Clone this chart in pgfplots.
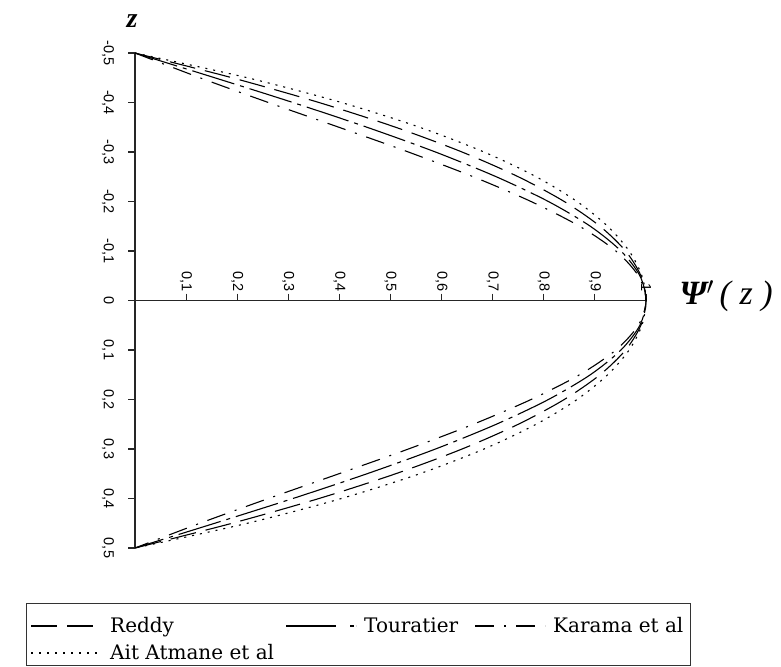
\documentclass[border=0pt]{standalone}
\usepackage{fontspec}
\setmainfont{Liberation Serif}
\newfontfamily\ticksfont{Liberation Sans}
\newfontfamily\legfont{DejaVu Serif}
\usepackage{pgfplots}
\usepackage{pgfplotstable}
\pgfplotsset{compat=1.18}

% Transverse shear shape functions Psi'(z) of four plate theories
\pgfplotstableread{
z      reddy  touratier karama atmane
-0.50  0.000  0.000     0.000  0.000
-0.45  0.190  0.156     0.127  0.220
-0.40  0.360  0.309     0.261  0.404
-0.35  0.510  0.454     0.399  0.557
-0.30  0.640  0.588     0.535  0.683
-0.25  0.750  0.707     0.662  0.785
-0.20  0.840  0.809     0.775  0.865
-0.15  0.910  0.891     0.870  0.925
-0.10  0.960  0.951     0.941  0.967
-0.05  0.990  0.988     0.985  0.992
 0.00  1.000  1.000     1.000  1.000
 0.05  0.990  0.988     0.985  0.992
 0.10  0.960  0.951     0.941  0.967
 0.15  0.910  0.891     0.870  0.925
 0.20  0.840  0.809     0.775  0.865
 0.25  0.750  0.707     0.662  0.785
 0.30  0.640  0.588     0.535  0.683
 0.35  0.510  0.454     0.399  0.557
 0.40  0.360  0.309     0.261  0.404
 0.45  0.190  0.156     0.127  0.220
 0.50  0.000  0.000     0.000  0.000
}\profiles

\tikzset{
  curve/.style={black, line width=1.1pt},
  reddy/.style={curve, dash pattern=on 26pt off 10pt},
  touratier/.style={curve, dash pattern=on 44pt off 6pt on 4pt off 6pt},
  touratierkey/.style={curve, dash pattern=on 50pt off 14pt on 4pt off 2pt},
  karama/.style={curve, dash pattern=on 19pt off 10pt on 2pt off 10pt},
  atmane/.style={curve, dash pattern=on 2pt off 6pt},
  legtext/.style={anchor=base west, inner sep=0pt,
    font=\legfont\fontsize{20}{20}\selectfont},
}

\begin{document}
\begin{tikzpicture}
% page frame
\path (0pt,0pt) rectangle (781pt,-666pt);
\begin{axis}[
  at={(135pt,-548pt)}, anchor=south west,
  scale only axis, width=511pt, height=495pt,
  xmin=0, xmax=1, ymin=-0.5, ymax=0.5,
  y dir=reverse,
  enlargelimits=false, clip=false,
  axis lines=middle,
  axis line style={-, line width=1.2pt, black!85},
  xtick={0.1,0.2,0.3,0.4,0.5,0.6,0.7,0.8,0.9,1},
  xticklabels={{0,1},{0,2},{0,3},{0,4},{0,5},{0,6},{0,7},{0,8},{0,9},{1}},
  ytick={-0.5,-0.4,-0.3,-0.2,-0.1,0,0.1,0.2,0.3,0.4,0.5},
  yticklabels={{-0,5},{-0,4},{-0,3},{-0,2},{-0,1},{0},{0,1},{0,2},{0,3},{0,4},{0,5}},
  hide obscured y ticks=false,
  tick align=center,
  major tick length=7pt,
  tick style={black!85, line width=1.1pt},
  xtick style={yshift=3.5pt},
  ytick style={xshift=-3.5pt},
  xticklabel style={font=\ticksfont\fontsize{14.5}{14.5}\selectfont,
    yshift=9pt, rotate=-90, anchor=east},
  yticklabel style={font=\ticksfont\fontsize{14.5}{14.5}\selectfont,
    xshift=-14pt, rotate=-90, anchor=north},
  every axis plot/.append style={smooth},
]
\addplot[reddy]     table[x=reddy,     y=z] {\profiles};
\addplot[touratier] table[x=touratier, y=z] {\profiles};
\addplot[karama]    table[x=karama,    y=z] {\profiles};
\addplot[atmane]    table[x=atmane,    y=z] {\profiles};
\end{axis}
% axis titles
\node[anchor=base, font=\fontsize{28}{28}\selectfont\bfseries\itshape]
  at (132pt,-28pt) {z};
\node[anchor=base west, font=\fontsize{34}{34}\selectfont\itshape]
  at (676pt,-304pt) {\textbf{Ψ}${}'$\,( z )};
% legend
\draw[black!80, line width=1pt] (26pt,-603pt) rectangle (690pt,-665pt);
\draw[reddy]        (31pt,-626pt)  -- (101pt,-626pt);
\node[legtext] at (110pt,-632pt) {Reddy};
\draw[touratierkey] (286pt,-626pt) -- (356pt,-626pt);
\node[legtext] at (364pt,-632pt) {Touratier};
\draw[karama]       (475pt,-626pt) -- (545pt,-626pt);
\node[legtext] at (553pt,-632pt) {Karama et al};
\draw[atmane]       (31pt,-653pt)  -- (101pt,-653pt);
\node[legtext] at (110pt,-659pt) {Ait Atmane et al};
\end{tikzpicture}
\end{document}
